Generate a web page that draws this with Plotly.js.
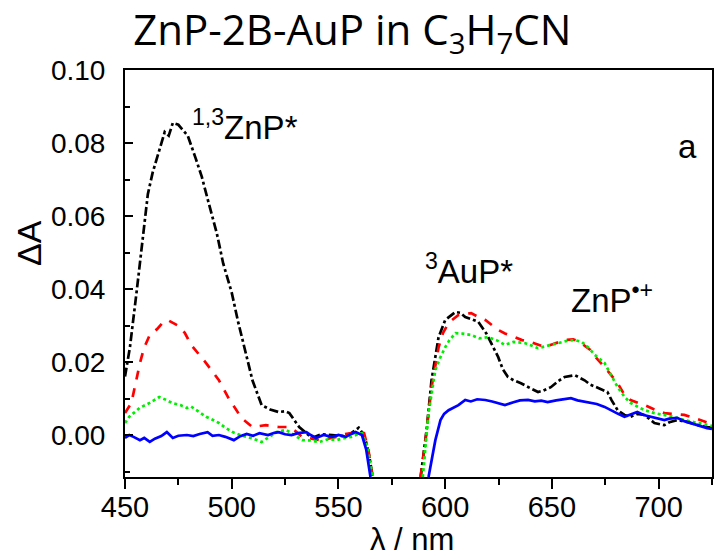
<!DOCTYPE html>
<html>
<head>
<meta charset="utf-8">
<script src="https://cdn.plot.ly/plotly-3.0.1.min.js"></script>
<style>html,body{margin:0;padding:0;background:#fff;}#chart{width:728px;height:559px;}</style>
</head>
<body>
<div id="chart"></div>
<script>
// Wavelength (nm) and ΔA for each trace; null separates the two spectral windows
const blackX = [450,452.3,455.6,458,460.7,463,465,468.6,470.5,472.4,475,479.4,483,486,489,493,496,500,503,505,509.7,514,518,522,525,527,531.6,537.6,542,547,552,556,559.5,561,563,564.5,566,
  null,588.5,591.3,593.6,596.9,600,604.8,607,609.4,612,615.5,619.2,622,624.8,627,629.4,632,635.5,640,643.5,646,649.5,653,656,660.7,665.3,668,671.4,676,678,680.8,684,686.8,690,693.4,698,702.7,705,708.7,713.4,718,722.7,725];
const blackY = [0.016,0.024,0.040,0.0526,0.066,0.072,0.076,0.083,0.082,0.0855,0.085,0.082,0.076,0.0707,0.064,0.0553,0.047,0.039,0.031,0.026,0.015,0.0082,0.007,0.0063,0.0065,0.006,0.0022,-0.0008,0.0002,0,-0.0003,0.0005,0.002,0.0008,-0.002,-0.006,-0.0115,
  null,-0.0115,0.0014,0.015,0.0268,0.0315,0.0337,0.0335,0.0323,0.0318,0.031,0.0279,0.0245,0.0214,0.018,0.0159,0.015,0.0142,0.0128,0.0118,0.0122,0.0131,0.0148,0.0159,0.0164,0.015,0.0138,0.0129,0.0118,0.0095,0.0068,0.0055,0.005,0.0058,0.0055,0.0033,0.0027,0.0035,0.0041,0.0036,0.0028,0.0022,0.002];

const redX = [450,453,457,459,461.6,465,468,470,474.7,478,481,485,488,494,499,502,504.5,509.7,513,516,519,522,527,530,533,537,541,545,549,552,556,560,562,564,566,
  null,588.5,590.8,593.6,596.9,599,601.6,606.2,612.2,615,618.8,624.8,628,632.7,636,640,646.7,651,656,660,663,668,671,674.7,680.8,684,686.8,693.4,698,702.7,707,712,716,722.7,725];
const redY = [0.006,0.0088,0.0197,0.024,0.0274,0.029,0.031,0.0315,0.030,0.028,0.0247,0.022,0.0197,0.015,0.0096,0.007,0.0047,0.0022,0.0025,0.0027,0.0024,0.0022,0.0022,0.001,-0.0005,-0.001,-0.0014,-0.001,-0.0005,0.0002,0.0005,0.0008,0.0005,-0.004,-0.0115,
  null,-0.0115,-0.0014,0.0131,0.024,0.028,0.0307,0.0329,0.0334,0.0325,0.0315,0.0288,0.0278,0.0268,0.026,0.0255,0.0241,0.025,0.026,0.0262,0.0255,0.0233,0.021,0.0186,0.0142,0.011,0.0096,0.0082,0.007,0.006,0.0058,0.0055,0.0048,0.0033,0.003];

const greenX = [450,452,454,457,461.6,464,466,469,472,476,479,481,483.6,488,491,494,497,500.4,504,507,510,514,517,521,525.5,529,533,537,541,545,549,553,556,559,561,563.5,566,
  null,589.5,592.2,595.4,597.5,600,602,604.8,608,612.2,616,620,624,628,632,637.3,640,643.5,647,652.8,657,660.7,664,666.8,670,674.7,678,680.8,684,686.8,690,693.4,698,702.7,707,712,717,722.7,725];
const greenY = [0.0033,0.005,0.006,0.0075,0.0088,0.0098,0.0104,0.0097,0.0088,0.0082,0.0074,0.0078,0.0068,0.005,0.0042,0.0033,0.002,0.0008,0,-0.0005,-0.001,-0.0019,-0.0008,0.0008,0.0014,0.0002,-0.0014,-0.0015,-0.0019,-0.0012,-0.0014,-0.0008,-0.0005,0.0002,0.0005,-0.003,-0.0115,
  null,-0.0115,0.006,0.0178,0.021,0.024,0.026,0.0279,0.0278,0.0274,0.0265,0.0268,0.026,0.0247,0.0255,0.0252,0.0245,0.0238,0.0243,0.0252,0.0258,0.026,0.0255,0.0241,0.022,0.0197,0.016,0.0131,0.0105,0.0088,0.0078,0.0068,0.006,0.0055,0.005,0.0041,0.0035,0.0027,0.0025];

const blueX = [450,452,454,457,459,461.6,464,467,469.6,472.4,475,479,482,485,488.7,491,494,497,501,504,507,510,513,517,520,522,525,528,531,535,537,539.5,543,547,550,553.5,556,558,561,563,565,
  null,592.2,595.4,597.8,599.5,601.6,604,606.2,609.4,612,615,618.8,622,625,628,632,635,638.8,642,645,648,652,655,658.9,662,665,668,671,674.7,678,681,684,687,690,693,696.2,699,702.7,705,708.7,712,714.8,718,722.7,725];
const blueY = [-0.0008,0,-0.0005,-0.0014,-0.0008,-0.0019,-0.001,-0.0003,0.0008,-0.0008,-0.0002,0,-0.0003,0.0003,0.0008,-0.0002,0,-0.0005,-0.0014,-0.0003,0.0003,-0.0002,0.0005,0,0.0006,0.0008,0.0002,0,0.0005,0.0008,0,-0.0008,0,-0.0005,0,-0.0005,0.0003,0.0008,0,-0.004,-0.0115,
  null,-0.0115,-0.0014,0.0041,0.0058,0.0068,0.0075,0.0082,0.0096,0.0092,0.0098,0.0096,0.0092,0.0088,0.0082,0.009,0.0095,0.0096,0.0092,0.0094,0.009,0.0095,0.0098,0.0101,0.0095,0.0092,0.0088,0.0085,0.0077,0.0066,0.0058,0.005,0.0056,0.0063,0.0055,0.005,0.0046,0.0041,0.0045,0.0047,0.0038,0.0033,0.0028,0.0019,0.0017];

const xTickVals = [450,500,550,600,650,700];
const yTickVals = [0.00,0.02,0.04,0.06,0.08,0.10];

const traces = [
  {x: blackX, y: blackY, mode:'lines', line:{color:'#000000', width:2.7, dash:'dashdot'}, connectgaps:false},
  {x: redX, y: redY, mode:'lines', line:{color:'#ff0000', width:2.7, dash:'dash'}, connectgaps:false},
  {x: greenX, y: greenY, mode:'lines', line:{color:'#00ee00', width:2.7, dash:'dot'}, connectgaps:false},
  {x: blueX, y: blueY, mode:'lines', line:{color:'#0000ff', width:2.7}, connectgaps:false}
];

const ff = 'Liberation Sans, Arial, sans-serif';
const labelFont = {family:ff, size:33, color:'#000'};

const layout = {
  width:728, height:559,
  margin:{l:125, r:16, t:70, b:82},
  paper_bgcolor:'#fff', plot_bgcolor:'#fff',
  showlegend:false,
  font:{family:ff, color:'#000'},
  title:{text:'ZnP-2B-AuP in C<sub>3</sub>H<sub>7</sub>CN', font:{family:'Open Sans, sans-serif', size:42, color:'#000'},
         x:0.484, xref:'container', xanchor:'center', y:0.945, yref:'container', yanchor:'middle'},
  xaxis:{range:[450,725], tickvals:xTickVals, ticktext:xTickVals.map(String),
         ticks:'outside', ticklen:10, tickwidth:2, tickcolor:'#000', ticklabelstandoff:-7,
         minor:{dtick:25, tick0:450, ticks:'outside', ticklen:6, tickwidth:2, tickcolor:'#000', showgrid:false},
         showline:true, mirror:true, linewidth:2, linecolor:'#000',
         showgrid:false, zeroline:false,
         tickfont:{family:ff, size:29, color:'#000'}},
  yaxis:{range:[-0.0115,0.1], tickvals:yTickVals, tickformat:'.2f',
         ticks:'inside', ticklen:8, tickwidth:2, tickcolor:'#000',
         minor:{dtick:0.01, tick0:0, ticks:'inside', ticklen:5, tickwidth:2, tickcolor:'#000', showgrid:false},
         showline:true, mirror:true, linewidth:2, linecolor:'#000',
         showgrid:false, zeroline:false, ticklabelstandoff:12,
         tickfont:{family:ff, size:28, color:'#000'}},
  annotations:[
    {text:'ΔA', x:(29-125)/587, y:(477-243)/407, xref:'paper', yref:'paper', textangle:-90, showarrow:false, xanchor:'center', yanchor:'middle', font:{family:ff, size:34, color:'#000'}},
    {text:'λ / nm', x:(412-125)/587, y:-(539-477)/407, xref:'paper', yref:'paper', showarrow:false, xanchor:'center', yanchor:'middle', font:{family:ff, size:31, color:'#000'}},
    {text:'<sup>1,3</sup>ZnP*', x:506, y:0.085, xref:'x', yref:'y', showarrow:false, xanchor:'center', yanchor:'middle', font:labelFont},
    {text:'<sup>3</sup>AuP*', x:611, y:0.0455, xref:'x', yref:'y', showarrow:false, xanchor:'center', yanchor:'middle', font:labelFont},
    {text:'ZnP<sup>•+</sup>', x:678, y:0.0375, xref:'x', yref:'y', showarrow:false, xanchor:'center', yanchor:'middle', font:labelFont},
    {text:'a', x:713.5, y:0.079, xref:'x', yref:'y', showarrow:false, xanchor:'center', yanchor:'middle', font:labelFont}
  ]
};

Plotly.newPlot('chart', traces, layout, {displayModeBar:false, staticPlot:true});
</script>
</body>
</html>
